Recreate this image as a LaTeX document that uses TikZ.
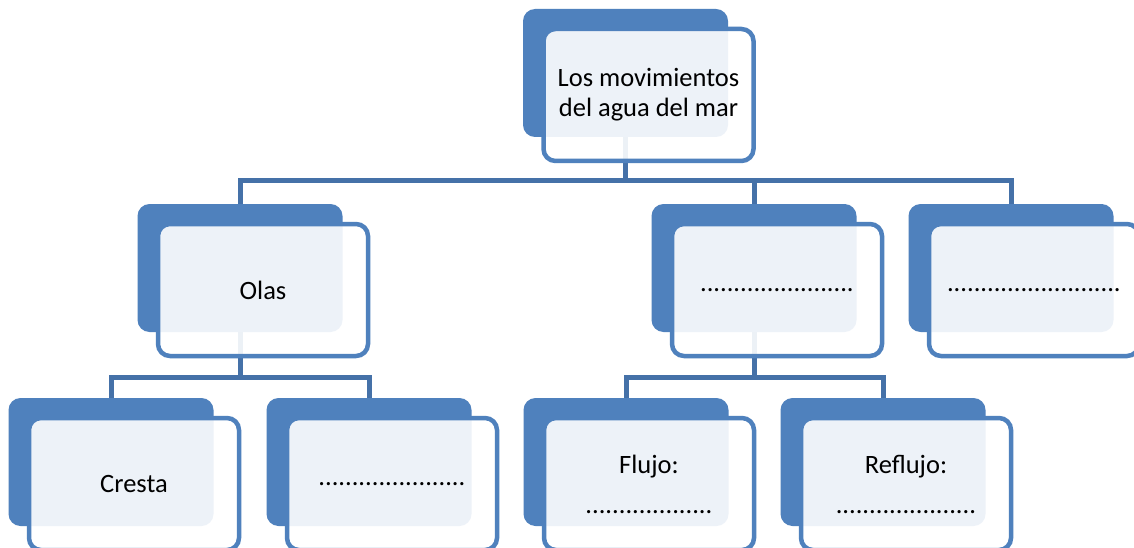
\documentclass[tikz,border=0pt]{standalone}
\usepackage{fontspec}
\setmainfont{Carlito}
\usetikzlibrary{backgrounds}
\definecolor{accent}{HTML}{4F81BD}
\definecolor{connc}{HTML}{4571A8}
\begin{document}
\begin{tikzpicture}[x=1pt,y=-1pt,
  backbox/.style={fill=accent, draw=none, rounded corners=12pt, minimum width=205pt, minimum height=128pt, inner sep=0pt, outer sep=0pt},
  frontbox/.style={fill=white, fill opacity=0.9, text opacity=1, draw=accent, line width=4.5pt, rounded corners=12pt, minimum width=210pt, minimum height=132pt, inner sep=0pt, outer sep=0pt, align=center, font=\fontsize{26.5}{30}\selectfont},
  conn/.style={draw=connc, line width=5pt}]
\useasboundingbox (0,0) rectangle (1134,548);
\clip (0,0) rectangle (1134,548);
\begin{scope}[on background layer]
  \fill[white] (0,0) rectangle (1134,548);
\end{scope}
\coordinate (h1) at (0,181);
\coordinate (h2) at (0,377);
% level 1
\node[backbox] (b1) at (625.5,73) {};
\node[frontbox] (f1) at (648.5,95) {Los movimientos\\del agua del mar};
% level 2
\node[backbox] (b2) at (240,268) {};
\node[frontbox] (f2) at (263,290) {Olas};
\node[backbox] (b3) at (754,268) {};
\node[frontbox] (f3) at (777,290) {.......................};
\node[backbox] (b4) at (1011,268) {};
\node[frontbox] (f4) at (1034,290) {..........................};
% level 3
\node[backbox] (b5) at (111,462) {};
\node[frontbox] (f5) at (134,484) {Cresta};
\node[backbox] (b6) at (369,462) {};
\node[frontbox] (f6) at (392,484) {......................};
\node[backbox] (b7) at (626,462) {};
\node[frontbox] (f7) at (649,484) {Flujo:\\[10pt]...................};
\node[backbox] (b8) at (883,462) {};
\node[frontbox] (f8) at (906,484) {Reflujo:\\[10pt].....................};
% connectors
\begin{scope}[on background layer]
  \draw[conn] (b1.center) -- (b1.center |- h1);
  \draw[conn] (b2.north) |- (b1.center |- h1);
  \draw[conn] (b3.north) |- (b1.center |- h1);
  \draw[conn] (b4.north) |- (b1.center |- h1);
  \draw[conn] (b2.center) -- (b2.center |- h2);
  \draw[conn] (b5.north) |- (b2.center |- h2);
  \draw[conn] (b6.north) |- (b2.center |- h2);
  \draw[conn] (b3.center) -- (b3.center |- h2);
  \draw[conn] (b7.north) |- (b3.center |- h2);
  \draw[conn] (b8.north) |- (b3.center |- h2);
\end{scope}
\end{tikzpicture}
\end{document}
